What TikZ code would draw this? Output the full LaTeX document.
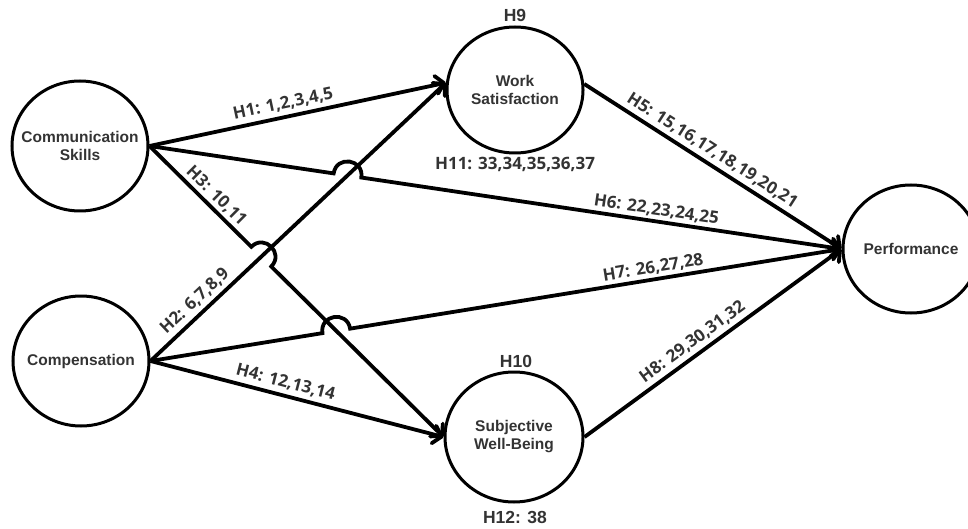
\documentclass[tikz,border=0pt]{standalone}
\usepackage{fontspec}
\setmainfont{Liberation Sans}
\newfontfamily\osans{Open Sans}
\usetikzlibrary{arrows.meta,shapes.geometric,calc,intersections}
\definecolor{txt}{HTML}{333333}
\tikzset{
  construct/.style={ellipse, draw, line width=3pt, minimum width=136pt, minimum height=130pt,
    inner sep=0pt},
  ctext/.style={align=center, inner sep=0pt, font=\fontsize{15.5}{18}\selectfont\bfseries, text=txt},
  conn/.style={line width=3.8pt, -{Straight Barb[length=8pt,width=18pt,round]}},
  elabel/.style={sloped, above, inner sep=4pt, font=\osans\fontsize{17}{20}\selectfont\bfseries, text=txt},
  hlabel/.style={inner sep=0pt, font=\fontsize{17.5}{20}\selectfont\bfseries, text=txt},
}
\begin{document}
\begin{tikzpicture}[x=1pt,y=-1pt]
\useasboundingbox (0,0) rectangle (968,529);
\clip (0,0) rectangle (968,529);

% constructs
\node[construct, label={[ctext]center:Communication\\Skills}] (cs) at (80,146) {};
\node[construct, label={[ctext]center:Compensation}] (comp) at (81,361) {};
\node[construct, minimum height=126pt, label={[ctext]center:Work\\Satisfaction}] (ws) at (515,90) {};
\node[construct, minimum width=138pt, label={[ctext]center:Subjective\\Well-Being}] (swb) at (514,437) {};
\node[construct, minimum height=128pt, label={[ctext]center:Performance}] (perf) at (911,249) {};

% hypothesis labels near constructs
\node[hlabel] (h9)  at (515,15)  {H9};
\node[hlabel] (h10) at (516,361) {H10};
\node[hlabel] (h12) at (515,517) {H12: 38};
\node[hlabel, font=\osans\fontsize{17}{20}\selectfont\bfseries] (h11) at (515,164) {H11: 33,34,35,36,37};

% straight reference paths for the crossings
\path[name path=p2]  (comp.east) -- (ws.174);
\path[name path=p3]  (cs.east)   -- (swb.west);
\path[name path=p11] (cs.east)   -- (perf.west);
\path[name path=p7]  (comp.east) -- (perf.west);
\path[name intersections={of=p11 and p2, by=x1}];
\path[name intersections={of=p3 and p2, by=x2}];
\path[name intersections={of=p7 and p3, by=x3}];

\coordinate (a1) at ($(x1)!14pt!(cs.east)$);
\coordinate (b1) at ($(x1)!14pt!(perf.west)$);
\coordinate (a2) at ($(x2)!14pt!(cs.east)$);
\coordinate (b2) at ($(x2)!14pt!(swb.west)$);
\coordinate (a3) at ($(x3)!14pt!(comp.east)$);
\coordinate (b3) at ($(x3)!14pt!(perf.west)$);

% straight connectors
\draw[conn] (cs.east) -- node[elabel, pos=0.46] {H1: 1,2,3,4,5} (ws.174);
\draw[conn] (comp.east) -- node[elabel, pos=0.18] {H2: 6,7,8,9} (ws.174);
\draw[conn] (comp.east) -- node[elabel, pos=0.45] {H4: 12,13,14} (swb.west);
\draw[conn] (ws.5) -- node[elabel, pos=0.47] {H5: 15,16,17,18,19,20,21} (perf.west);
\draw[conn] (swb.east) -- node[elabel, pos=0.45] {H8: 29,30,31,32} (perf.west);

% connectors with hops
\draw[conn] (cs.east) -- (a2) .. controls ($(a2)!18.7pt!90:(x2)$) and ($(b2)!18.7pt!-90:(x2)$) .. (b2) -- (swb.west);
\draw[conn] (cs.east) -- (a1) .. controls ($(a1)!18.7pt!90:(x1)$) and ($(b1)!18.7pt!-90:(x1)$) .. (b1) -- (perf.west);
\draw[conn] (comp.east) -- (a3) .. controls ($(a3)!18.7pt!90:(x3)$) and ($(b3)!18.7pt!-90:(x3)$) .. (b3) -- (perf.west);

% labels of hopped connectors
\path (cs.east) -- node[elabel, pos=0.2] {H3: 10,11} (swb.west);
\path (cs.east) -- node[elabel, pos=0.73] {H6: 22,23,24,25} (perf.west);
\path (comp.east) -- node[elabel, pos=0.73] {H7: 26,27,28} (perf.west);
\end{tikzpicture}
\end{document}
